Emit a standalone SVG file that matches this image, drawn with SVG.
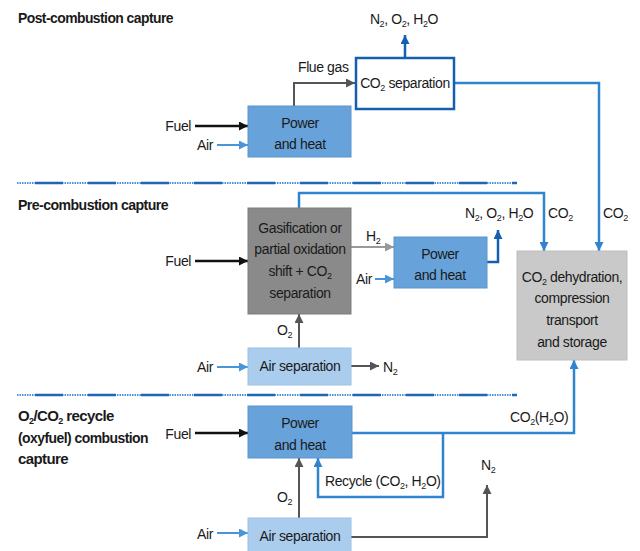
<svg xmlns="http://www.w3.org/2000/svg" width="640" height="551" viewBox="0 0 640 551">
<defs>
<style>
text{font-family:"Liberation Sans",Arial,sans-serif;font-size:14px;fill:#1a1a1a;letter-spacing:-0.4px}
.t{font-weight:bold;font-size:15px;letter-spacing:-0.6px}
.c{text-anchor:middle}
.e{text-anchor:end}
.s{font-size:9px}
.ln{fill:none;stroke-linejoin:miter}
.k{stroke:#111;stroke-width:2.5}
.g{stroke:#555;stroke-width:2}
.lg{stroke:#999;stroke-width:2}
.lb{stroke:#4a95d8;stroke-width:2}
.b{stroke:#2f83cf;stroke-width:2.5}
.db{stroke:#155fb0;stroke-width:2.5}
.ph{fill:#67a3da;stroke:#5a95cc;stroke-width:1}
.as{fill:#aacdee;stroke:#9cc2e6;stroke-width:1}
</style>
<marker id="mk" viewBox="0 0 10 10" refX="10" refY="5" markerWidth="9" markerHeight="9" markerUnits="userSpaceOnUse" orient="auto"><path d="M0,0L10,5L0,10z" fill="#111"/></marker>
<marker id="mg" viewBox="0 0 10 10" refX="10" refY="5" markerWidth="9" markerHeight="9" markerUnits="userSpaceOnUse" orient="auto"><path d="M0,0L10,5L0,10z" fill="#555"/></marker>
<marker id="mlg" viewBox="0 0 10 10" refX="10" refY="5" markerWidth="9" markerHeight="9" markerUnits="userSpaceOnUse" orient="auto"><path d="M0,0L10,5L0,10z" fill="#999"/></marker>
<marker id="mlb" viewBox="0 0 10 10" refX="10" refY="5" markerWidth="9" markerHeight="9" markerUnits="userSpaceOnUse" orient="auto"><path d="M0,0L10,5L0,10z" fill="#4a95d8"/></marker>
<marker id="mb" viewBox="0 0 10 10" refX="10" refY="5" markerWidth="9" markerHeight="9" markerUnits="userSpaceOnUse" orient="auto"><path d="M0,0L10,5L0,10z" fill="#2f83cf"/></marker>
<marker id="mdb" viewBox="0 0 10 10" refX="10" refY="5" markerWidth="9" markerHeight="9" markerUnits="userSpaceOnUse" orient="auto"><path d="M0,0L10,5L0,10z" fill="#155fb0"/></marker>
</defs>
<rect width="640" height="551" fill="#fff"/>

<!-- section titles and separators -->
<g id="titles">
<text class="t" x="18" y="23" textLength="155" lengthAdjust="spacingAndGlyphs">Post-combustion capture</text>
<text class="t" x="18" y="210" textLength="150" lengthAdjust="spacingAndGlyphs">Pre-combustion capture</text>
<text class="t" x="18" y="421">O<tspan class="s" dy="3">2</tspan><tspan dy="-3">/CO</tspan><tspan class="s" dy="3">2</tspan><tspan dy="-3"> recycle</tspan></text>
<text class="t" x="18" y="443" textLength="130" lengthAdjust="spacingAndGlyphs">(oxyfuel) combustion</text>
<text class="t" x="18" y="464">capture</text>
</g>
<g id="separators">
<line x1="17" y1="183" x2="517" y2="183" stroke="#4b8fd4" stroke-width="2" stroke-dasharray="1.5 1"/>
<line x1="17" y1="183" x2="517" y2="183" stroke="#1f66b4" stroke-width="2.5" stroke-dasharray="28 25" stroke-dashoffset="35"/>
<line x1="17" y1="395" x2="517" y2="395" stroke="#4b8fd4" stroke-width="2" stroke-dasharray="1.5 1"/>
<line x1="17" y1="395" x2="517" y2="395" stroke="#1f66b4" stroke-width="2.5" stroke-dasharray="28 25" stroke-dashoffset="35"/>
</g>

<!-- connectors -->
<g id="connectors">
<!-- post-combustion -->
<line class="ln k" x1="195" y1="126" x2="248" y2="126" marker-end="url(#mk)"/>
<line class="ln lb" x1="217" y1="145" x2="248" y2="145" marker-end="url(#mlb)"/>
<polyline class="ln g" points="294,106 294,83 355,83" marker-end="url(#mg)"/>
<line class="ln db" x1="405" y1="58" x2="405" y2="35" marker-end="url(#mdb)"/>
<polyline class="ln b" points="455,83 599,83 599,251" marker-end="url(#mb)"/>
<!-- pre-combustion -->
<line class="ln k" x1="195" y1="261" x2="248" y2="261" marker-end="url(#mk)"/>
<polyline class="ln b" points="299,208 299,193 544,193 544,251" marker-end="url(#mb)"/>
<line class="ln lg" x1="351" y1="247" x2="394" y2="247" marker-end="url(#mlg)"/>
<line class="ln lb" x1="375" y1="279" x2="394" y2="279" marker-end="url(#mlb)"/>
<polyline class="ln db" points="487,262 498,262 498,230" marker-end="url(#mdb)"/>
<line class="ln lb" x1="217" y1="367" x2="248" y2="367" marker-end="url(#mlb)"/>
<line class="ln g" x1="299" y1="348" x2="299" y2="314" marker-end="url(#mg)"/>
<line class="ln g" x1="351" y1="366" x2="379" y2="366" marker-end="url(#mg)"/>
<!-- oxyfuel -->
<line class="ln k" x1="195" y1="433" x2="248" y2="433" marker-end="url(#mk)"/>
<polyline class="ln b" points="352,433 574,433 574,360" marker-end="url(#mb)"/>
<polyline class="ln b" points="443,433 443,497 318,497 318,458" marker-end="url(#mb)"/>
<line class="ln g" x1="299" y1="518" x2="299" y2="458" marker-end="url(#mg)"/>
<line class="ln lb" x1="217" y1="533" x2="248" y2="533" marker-end="url(#mlb)"/>
<polyline class="ln g" points="351,537 487,537 487,485" marker-end="url(#mg)"/>
</g>

<!-- connector labels -->
<g id="labels">
<text class="c" x="404" y="24">N<tspan class="s" dy="3">2</tspan><tspan dy="-3">, O</tspan><tspan class="s" dy="3">2</tspan><tspan dy="-3">, H</tspan><tspan class="s" dy="3">2</tspan><tspan dy="-3">O</tspan></text>
<text x="298" y="72">Flue gas</text>
<text class="e" x="191" y="131">Fuel</text>
<text class="e" x="213" y="150">Air</text>
<text class="e" x="191" y="266">Fuel</text>
<text x="366" y="241">H<tspan class="s" dy="3">2</tspan></text>
<text x="356" y="284">Air</text>
<text x="465" y="218">N<tspan class="s" dy="3">2</tspan><tspan dy="-3">, O</tspan><tspan class="s" dy="3">2</tspan><tspan dy="-3">, H</tspan><tspan class="s" dy="3">2</tspan><tspan dy="-3">O</tspan></text>
<text x="548" y="218">CO<tspan class="s" dy="3">2</tspan></text>
<text x="603" y="218">CO<tspan class="s" dy="3">2</tspan></text>
<text x="277" y="335">O<tspan class="s" dy="3">2</tspan></text>
<text class="e" x="213" y="372">Air</text>
<text x="383" y="372">N<tspan class="s" dy="3">2</tspan></text>
<text class="e" x="191" y="439">Fuel</text>
<text x="510" y="422">CO<tspan class="s" dy="3">2</tspan><tspan dy="-3">(H</tspan><tspan class="s" dy="3">2</tspan><tspan dy="-3">O)</tspan></text>
<text x="325" y="486">Recycle (CO<tspan class="s" dy="3">2</tspan><tspan dy="-3">, H</tspan><tspan class="s" dy="3">2</tspan><tspan dy="-3">O)</tspan></text>
<text x="277" y="502">O<tspan class="s" dy="3">2</tspan></text>
<text x="481" y="470">N<tspan class="s" dy="3">2</tspan></text>
<text class="e" x="213" y="539">Air</text>
</g>

<!-- nodes -->
<g id="post-power">
<rect class="ph" x="248" y="106" width="103" height="51"/>
<text class="c" x="300" y="128">Power</text>
<text class="c" x="300" y="149">and heat</text>
</g>
<g id="co2-separation">
<rect x="356" y="58" width="98" height="51" fill="#fff" stroke="#155fb0" stroke-width="2.5"/>
<text class="c" x="405" y="88">CO<tspan class="s" dy="3">2</tspan><tspan dy="-3"> separation</tspan></text>
</g>
<g id="gasification">
<rect x="248" y="208" width="103" height="106" fill="#8a8a8a" stroke="#7d7d7d" stroke-width="1"/>
<text class="c" x="300" y="233">Gasification or</text>
<text class="c" x="300" y="254">partial oxidation</text>
<text class="c" x="300" y="276">shift + CO<tspan class="s" dy="3">2</tspan></text>
<text class="c" x="300" y="298">separation</text>
</g>
<g id="pre-power">
<rect class="ph" x="394" y="237" width="93" height="51"/>
<text class="c" x="440" y="259">Power</text>
<text class="c" x="440" y="280">and heat</text>
</g>
<g id="pre-air-separation">
<rect class="as" x="248" y="348" width="103" height="37"/>
<text class="c" x="300" y="371">Air separation</text>
</g>
<g id="co2-storage">
<rect x="517" y="251" width="110" height="109" fill="#c9c9c9" stroke="#bdbdbd" stroke-width="1"/>
<text class="c" x="572" y="282">CO<tspan class="s" dy="3">2</tspan><tspan dy="-3"> dehydration,</tspan></text>
<text class="c" x="572" y="303">compression</text>
<text class="c" x="572" y="325">transport</text>
<text class="c" x="572" y="347">and storage</text>
</g>
<g id="oxy-power">
<rect class="ph" x="248" y="406" width="104" height="52"/>
<text class="c" x="300" y="428">Power</text>
<text class="c" x="300" y="450">and heat</text>
</g>
<g id="oxy-air-separation">
<rect class="as" x="248" y="518" width="103" height="36"/>
<text class="c" x="300" y="541">Air separation</text>
</g>
</svg>
